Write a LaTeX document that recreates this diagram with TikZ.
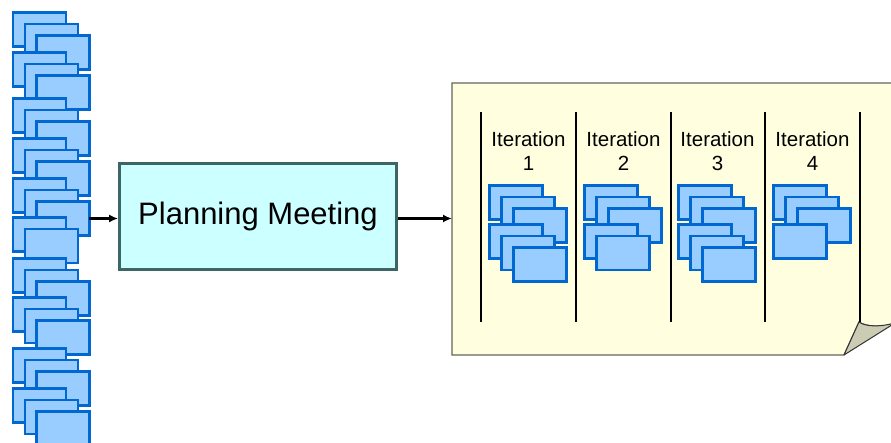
\documentclass[tikz,border=0pt]{standalone}
\usepackage{fontspec}
\setmainfont{Liberation Sans}
\usetikzlibrary{arrows.meta}

\definecolor{cardfill}{RGB}{153,204,255}
\definecolor{cardline}{RGB}{0,104,208}
\definecolor{meetfill}{RGB}{204,255,255}
\definecolor{meetline}{RGB}{60,102,102}
\definecolor{paperfill}{RGB}{255,255,224}
\definecolor{paperline}{RGB}{100,100,90}
\definecolor{curlfill}{RGB}{204,204,180}

\tikzset{
  card/.style={draw=cardline, fill=cardfill, line width=2.4pt,
    minimum width=53pt, minimum height=34pt, inner sep=0pt, outer sep=0pt,
    anchor=north west},
  meeting/.style={draw=meetline, fill=meetfill, line width=2.8pt,
    minimum width=277pt, minimum height=106pt, inner sep=0pt,
    font=\fontsize{31}{36}\selectfont},
  flow/.style={line width=2.6pt, -{Latex[length=9pt,width=8pt]}},
  sepline/.style={line width=2pt, black},
  itlabel/.style={align=center, anchor=base, inner sep=0pt,
    font=\fontsize{20.5}{24}\selectfont},
  paper/.style={fill=paperfill, draw=paperline, line width=1.3pt, line join=miter},
  curl/.style={fill=curlfill, draw=black!80, line width=1pt, line join=round}
}

\begin{document}
\begin{tikzpicture}[x=1pt, y=-1pt]
  \useasboundingbox (0,0) rectangle (891,443);
  \clip (0,0) rectangle (891,443);

  % the sheet holding the iteration plan, with its curled corner
  \path[paper] (452,83) -- (900,83) -- (900,324)
    .. controls (880,327) and (866,327) .. (859,322)
    -- (844,355) -- (452,355) -- cycle;
  \path[curl] (844,355) -- (859,322)
    .. controls (866,327) and (880,327) .. (895,323) -- cycle;
  \coordinate (sheet) at (452,218.5);

  % column separators
  \foreach \x in {481,576,671,765,860}
    \draw[sepline] (\x,112) -- (\x,322);

  % stack of story cards waiting to be planned
  \foreach \g/\t/\n in {1/12.5/3, 2/52.5/3, 3/98.5/3, 4/138.5/3, 5/178.5/3,
                        6/217.5/2, 7/258.5/3, 8/297.5/3, 9/348.5/3, 10/388.5/3}{
    \foreach \k in {1,...,\n}{
      \node[card] (s\g-\k) at ({13+11.7*(\k-1)},{\t+11.5*(\k-1)}) {};
    }
  }

  % the meeting
  \node[meeting] (plan) at (258,216.5) {Planning Meeting};

  \draw[flow] (s5-3.east) -- (s5-3.east -| plan.west);
  \draw[flow] (plan.east |- sheet) -- (sheet);

  % cards assigned to each iteration
  \foreach \i/\x/\n in {1/489.5/6, 2/584.5/5, 3/678.5/6, 4/773.5/4}{
    \node[itlabel] (it\i) at (\x+39,171) {Iteration\\\i};
    \foreach \k in {1,...,\n}{
      \pgfmathtruncatemacro\r{mod(\k-1,3)}
      \pgfmathtruncatemacro\q{int((\k-1)/3)}
      \node[card] (c\i-\k) at ({\x+12*\r},{185.5+11.5*\r+39*\q}) {};
    }
  }
\end{tikzpicture}
\end{document}
